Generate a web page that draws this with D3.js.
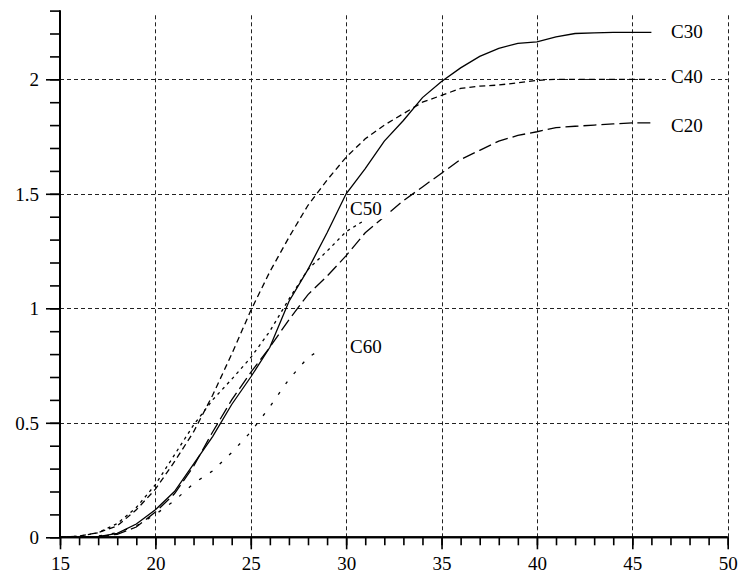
<!DOCTYPE html>
<html>
<head>
<meta charset="utf-8">
<script src="https://cdn.jsdelivr.net/npm/d3@7"></script>
<style>
  html, body { margin: 0; padding: 0; background: #fff; }
  svg { display: block; }
</style>
</head>
<body>
<svg id="chart" width="738" height="575" font-family="Liberation Serif, Times New Roman, serif" font-size="19">
</svg>
<script>
// ---- data ----
const xFull = [15,16,17,18,19,20,21,22,23,24,25,26,27,28,29,30,31,32,33,34,35,36,37,38,39,40,41,42,43,44,45,46];
const c30 = [0,0,0.003,0.017,0.058,0.12,0.2,0.32,0.44,0.58,0.70,0.83,1.03,1.17,1.33,1.5,1.61,1.73,1.82,1.92,1.99,2.05,2.10,2.135,2.157,2.163,2.185,2.2,2.203,2.205,2.205,2.205];
const c40 = [0,0.005,0.02,0.05,0.12,0.21,0.33,0.46,0.62,0.80,0.99,1.16,1.31,1.45,1.56,1.66,1.74,1.80,1.85,1.90,1.93,1.96,1.97,1.975,1.985,1.995,2.0,2.0,2.0,2.0,2.0,2.0];
const c20 = [0,0,0.003,0.013,0.045,0.11,0.19,0.31,0.46,0.60,0.72,0.83,0.95,1.06,1.14,1.23,1.33,1.40,1.47,1.53,1.59,1.65,1.69,1.73,1.755,1.771,1.789,1.795,1.80,1.805,1.81,1.81];
const xC50 = [15,16,17,18,19,20,21,22,23,24,25,26,27,28,29,30,31];
const c50 = [0,0.005,0.02,0.06,0.13,0.23,0.36,0.49,0.60,0.69,0.785,0.90,1.04,1.17,1.25,1.335,1.386];
const xC60 = [15,16,17,18,19,20,21,22,23,24,25,26,27,28,28.4];
const c60 = [0,0,0.005,0.02,0.05,0.10,0.16,0.235,0.29,0.37,0.46,0.57,0.69,0.785,0.806];

const seriesNames = ["C30","C40","C20","C50","C60"];
// label anchor in data units (x, y of baseline)
const labelX = [47.03, 47.03, 47.03, 30.2, 30.2];
const labelY = [2.182, 1.983, 1.769, 1.407, 0.803];

const xMajor = [15,20,25,30,35,40,45,50];
const yMajor = [0,0.5,1,1.5,2];
const yMajorLabels = ["0","0.5","1","1.5","2"];

// ---- drawing ----
const FONT = "Liberation Serif, Times New Roman, serif";
const svg = d3.select("#chart");
const x = d3.scaleLinear().domain([15,50]).range([60,727.7]);
const y = d3.scaleLinear().domain([0,2.3]).range([537.3,10.6]);

// grid
const grid = svg.append("g").attr("stroke","#222").attr("stroke-width",1).attr("stroke-dasharray","4,3");
grid.selectAll("line.v").data(xMajor.filter(d => d > 15)).join("line")
  .attr("x1", d => Math.round(x(d)) + 0.5).attr("x2", d => Math.round(x(d)) + 0.5)
  .attr("y1", y(0)).attr("y2", y(2.3) + 2);
grid.selectAll("line.h").data(yMajor.filter(d => d > 0)).join("line")
  .attr("y1", d => Math.round(y(d)) + 0.5).attr("y2", d => Math.round(y(d)) + 0.5)
  .attr("x1", x(15)).attr("x2", x(50));

// series
const styles = {
  C30: { dash: null },
  C40: { dash: "6,4" },
  C20: { dash: "13,5" },
  C50: { dash: "3,4" },
  C60: { dash: "3,10" }
};
const seriesData = {
  C30: xFull.map((d,i) => [d, c30[i]]),
  C40: xFull.map((d,i) => [d, c40[i]]),
  C20: xFull.map((d,i) => [d, c20[i]]),
  C50: xC50.map((d,i) => [d, c50[i]]),
  C60: xC60.map((d,i) => [d, c60[i]])
};
const line = d3.line().x(d => x(d[0])).y(d => y(d[1]));
seriesNames.forEach(name => {
  svg.append("path").datum(seriesData[name])
    .attr("fill","none").attr("stroke","#000").attr("stroke-width",1.3)
    .attr("stroke-dasharray", styles[name].dash)
    .attr("d", line);
});

// labels
const labelG = svg.append("g");
labelG.selectAll("rect").data(seriesNames).join("rect")
  .attr("x", (d,i) => x(labelX[i]) - 3).attr("y", (d,i) => y(labelY[i]) - 14)
  .attr("width", 40).attr("height", 18).attr("fill", "#fff");
labelG.selectAll("text").data(seriesNames).join("text")
  .attr("x", (d,i) => x(labelX[i])).attr("y", (d,i) => y(labelY[i]))
  .attr("font-family", FONT).attr("font-size", 19).attr("fill", "#000")
  .text(d => d);

// x axis
const xMinorAxis = d3.axisBottom(x).tickValues(d3.range(15,51)).tickSize(8).tickFormat("");
const xMajorAxis = d3.axisBottom(x).tickValues(xMajor).tickSize(12).tickPadding(9).tickFormat(d3.format("d"));
const gxm = svg.append("g").attr("transform", `translate(0,${y(0)})`).call(xMinorAxis);
const gx = svg.append("g").attr("transform", `translate(0,${y(0)})`).call(xMajorAxis);
// y axis
const yMinorAxis = d3.axisLeft(y).tickValues(d3.range(0,24).map(d => d/10)).tickSize(10).tickFormat("");
const yMajorAxis = d3.axisLeft(y).tickValues(yMajor).tickSize(14).tickPadding(7).tickFormat((d,i) => yMajorLabels[i]);
const gym = svg.append("g").attr("transform", `translate(${x(15)},0)`).call(yMinorAxis);
const gy = svg.append("g").attr("transform", `translate(${x(15)},0)`).call(yMajorAxis);

[gxm, gx, gym, gy].forEach(g => {
  g.attr("font-family", FONT).attr("font-size", 19);
  g.selectAll(".domain").attr("stroke","#000").attr("stroke-width",2);
  g.selectAll(".tick line").attr("stroke","#000").attr("stroke-width",1.6);
  g.selectAll("text").attr("font-family", FONT).attr("font-size", 19).attr("fill","#000");
});
// explicit baselines for tick labels
gx.selectAll(".tick text").attr("dy", null).attr("y", 33.2);
gy.selectAll(".tick text").attr("dy", null).attr("y", 6.5);
gxm.select(".domain").attr("d", `M${x(15)},0H${x(50)}`);
gx.select(".domain").attr("d", `M${x(15)},0H${x(50)}`);
gym.select(".domain").attr("d", `M0,${y(0)}V${y(2.3)}`);
gy.select(".domain").attr("d", `M0,${y(0)}V${y(2.3)}`);
</script>
</body>
</html>
